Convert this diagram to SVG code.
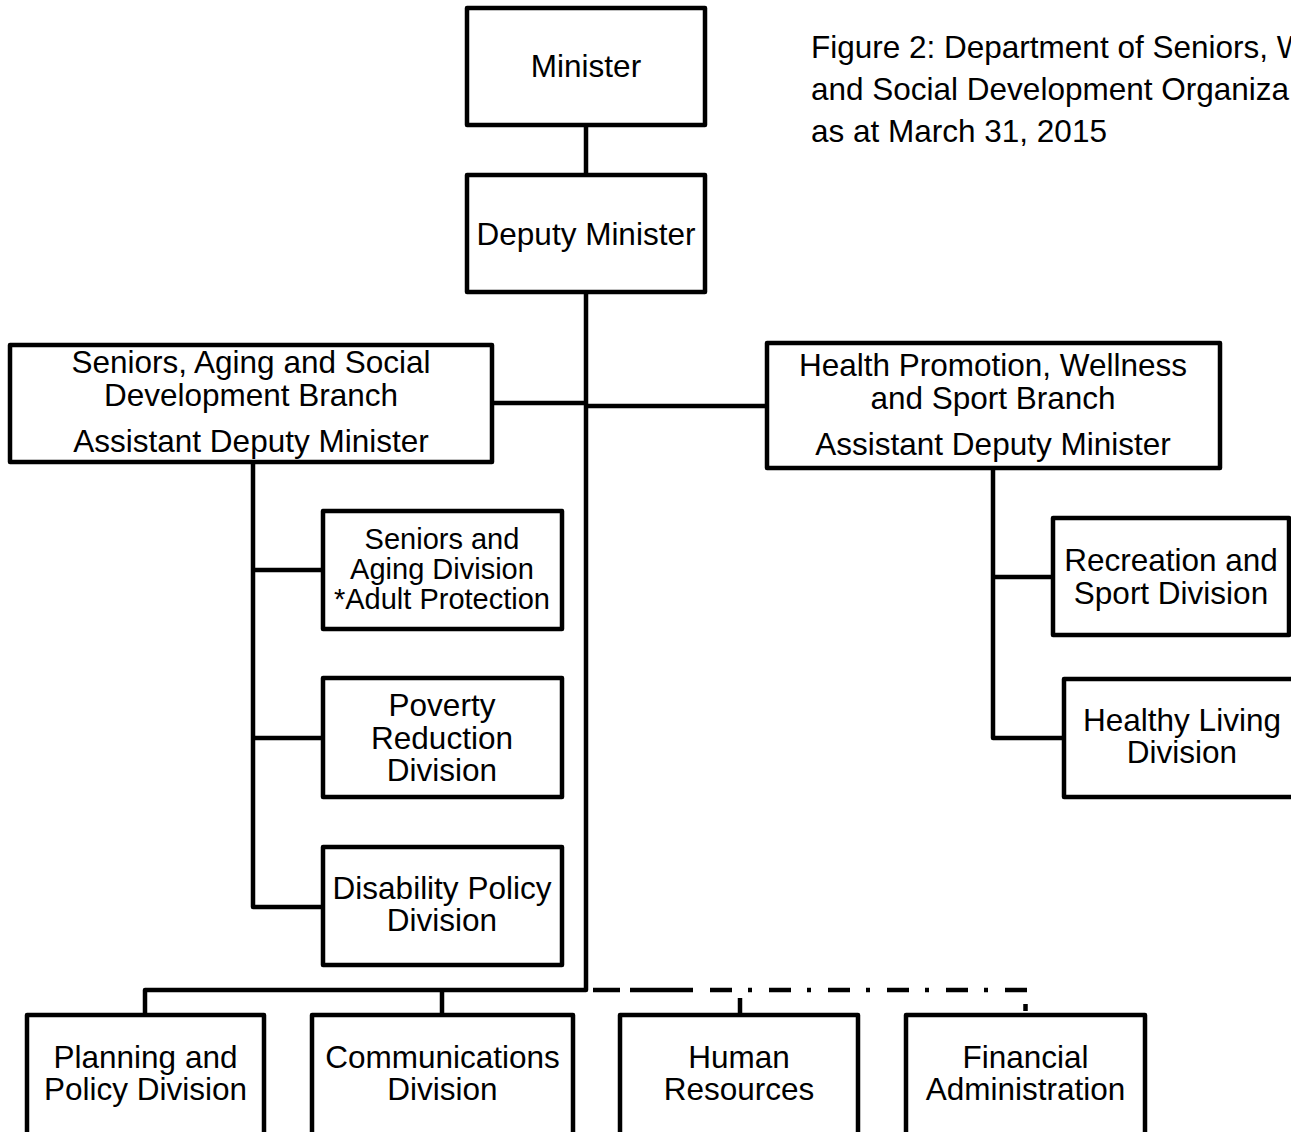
<svg xmlns="http://www.w3.org/2000/svg" width="1291" height="1132" viewBox="0 0 1291 1132">
<style>
.box{fill:#fff;stroke:#000;stroke-width:4.5;stroke-linejoin:round}
.ln{fill:none;stroke:#000;stroke-width:4.5;stroke-linejoin:round}
text{font-family:"Liberation Sans",Arial,sans-serif;font-size:31.5px;fill:#000;text-anchor:middle}
.sm{font-size:29px}
.title{text-anchor:start}
</style>
<rect width="1291" height="1132" fill="#fff"/>
<g id="connectors">
<path class="ln" d="M586,125V175M586,292V990H145V1015M442,990V1015M492,403H586M586,406H767"/>
<path class="ln" d="M253,462V907H323M253,570H323M253,738H323"/>
<path class="ln" d="M993,468V738H1064M993,577H1053"/>
<path class="ln" d="M593,990H620M630,990H693M740,998V1015"/>
<path class="ln" d="M710,990H1027" stroke-dasharray="22 16 4 17"/>
<path class="ln" d="M1025.5,1004V1011"/>
</g>
<g id="minister"><rect class="box" x="467" y="8" width="238" height="117"/><text x="586" y="77">Minister</text></g>
<g id="deputy"><rect class="box" x="467" y="175" width="238" height="117"/><text x="586" y="245">Deputy Minister</text></g>
<g id="title"><text class="title" x="811" y="58">Figure 2: Department of Seniors, W</text><text class="title" x="811" y="100">and Social Development Organiza</text><text class="title" x="811" y="142">as at March 31, 2015</text></g>
<g id="sasd"><rect class="box" x="10" y="345" width="482" height="117"/><text x="251" y="373">Seniors, Aging and Social</text><text x="251" y="406">Development Branch</text><text x="251" y="452">Assistant Deputy Minister</text></g>
<g id="hpws"><rect class="box" x="767" y="343" width="453" height="125"/><text x="993" y="376">Health Promotion, Wellness</text><text x="993" y="409">and Sport Branch</text><text x="993" y="455">Assistant Deputy Minister</text></g>
<g id="seniors-aging"><rect class="box" x="323" y="511" width="239" height="118"/><text class="sm" x="442" y="549">Seniors and</text><text class="sm" x="442" y="579">Aging Division</text><text class="sm" x="442" y="609">*Adult Protection</text></g>
<g id="poverty"><rect class="box" x="323" y="678" width="239" height="119"/><text x="442" y="716">Poverty</text><text x="442" y="749">Reduction</text><text x="442" y="781">Division</text></g>
<g id="disability"><rect class="box" x="323" y="847" width="239" height="118"/><text x="442" y="899">Disability Policy</text><text x="442" y="931">Division</text></g>
<g id="recreation"><rect class="box" x="1053" y="518" width="236" height="117"/><text x="1171" y="571">Recreation and</text><text x="1171" y="604">Sport Division</text></g>
<g id="healthy"><rect class="box" x="1064" y="679" width="240" height="118"/><text x="1182" y="731">Healthy Living</text><text x="1182" y="763">Division</text></g>
<g id="planning"><rect class="box" x="27" y="1015" width="237" height="130"/><text x="145.5" y="1068">Planning and</text><text x="145.5" y="1100">Policy Division</text></g>
<g id="communications"><rect class="box" x="312" y="1015" width="261" height="130"/><text x="442.5" y="1068">Communications</text><text x="442.5" y="1100">Division</text></g>
<g id="hr"><rect class="box" x="620" y="1015" width="238" height="130"/><text x="739" y="1068">Human</text><text x="739" y="1100">Resources</text></g>
<g id="finance"><rect class="box" x="906" y="1015" width="239" height="130"/><text x="1025.5" y="1068">Financial</text><text x="1025.5" y="1100">Administration</text></g>
</svg>
